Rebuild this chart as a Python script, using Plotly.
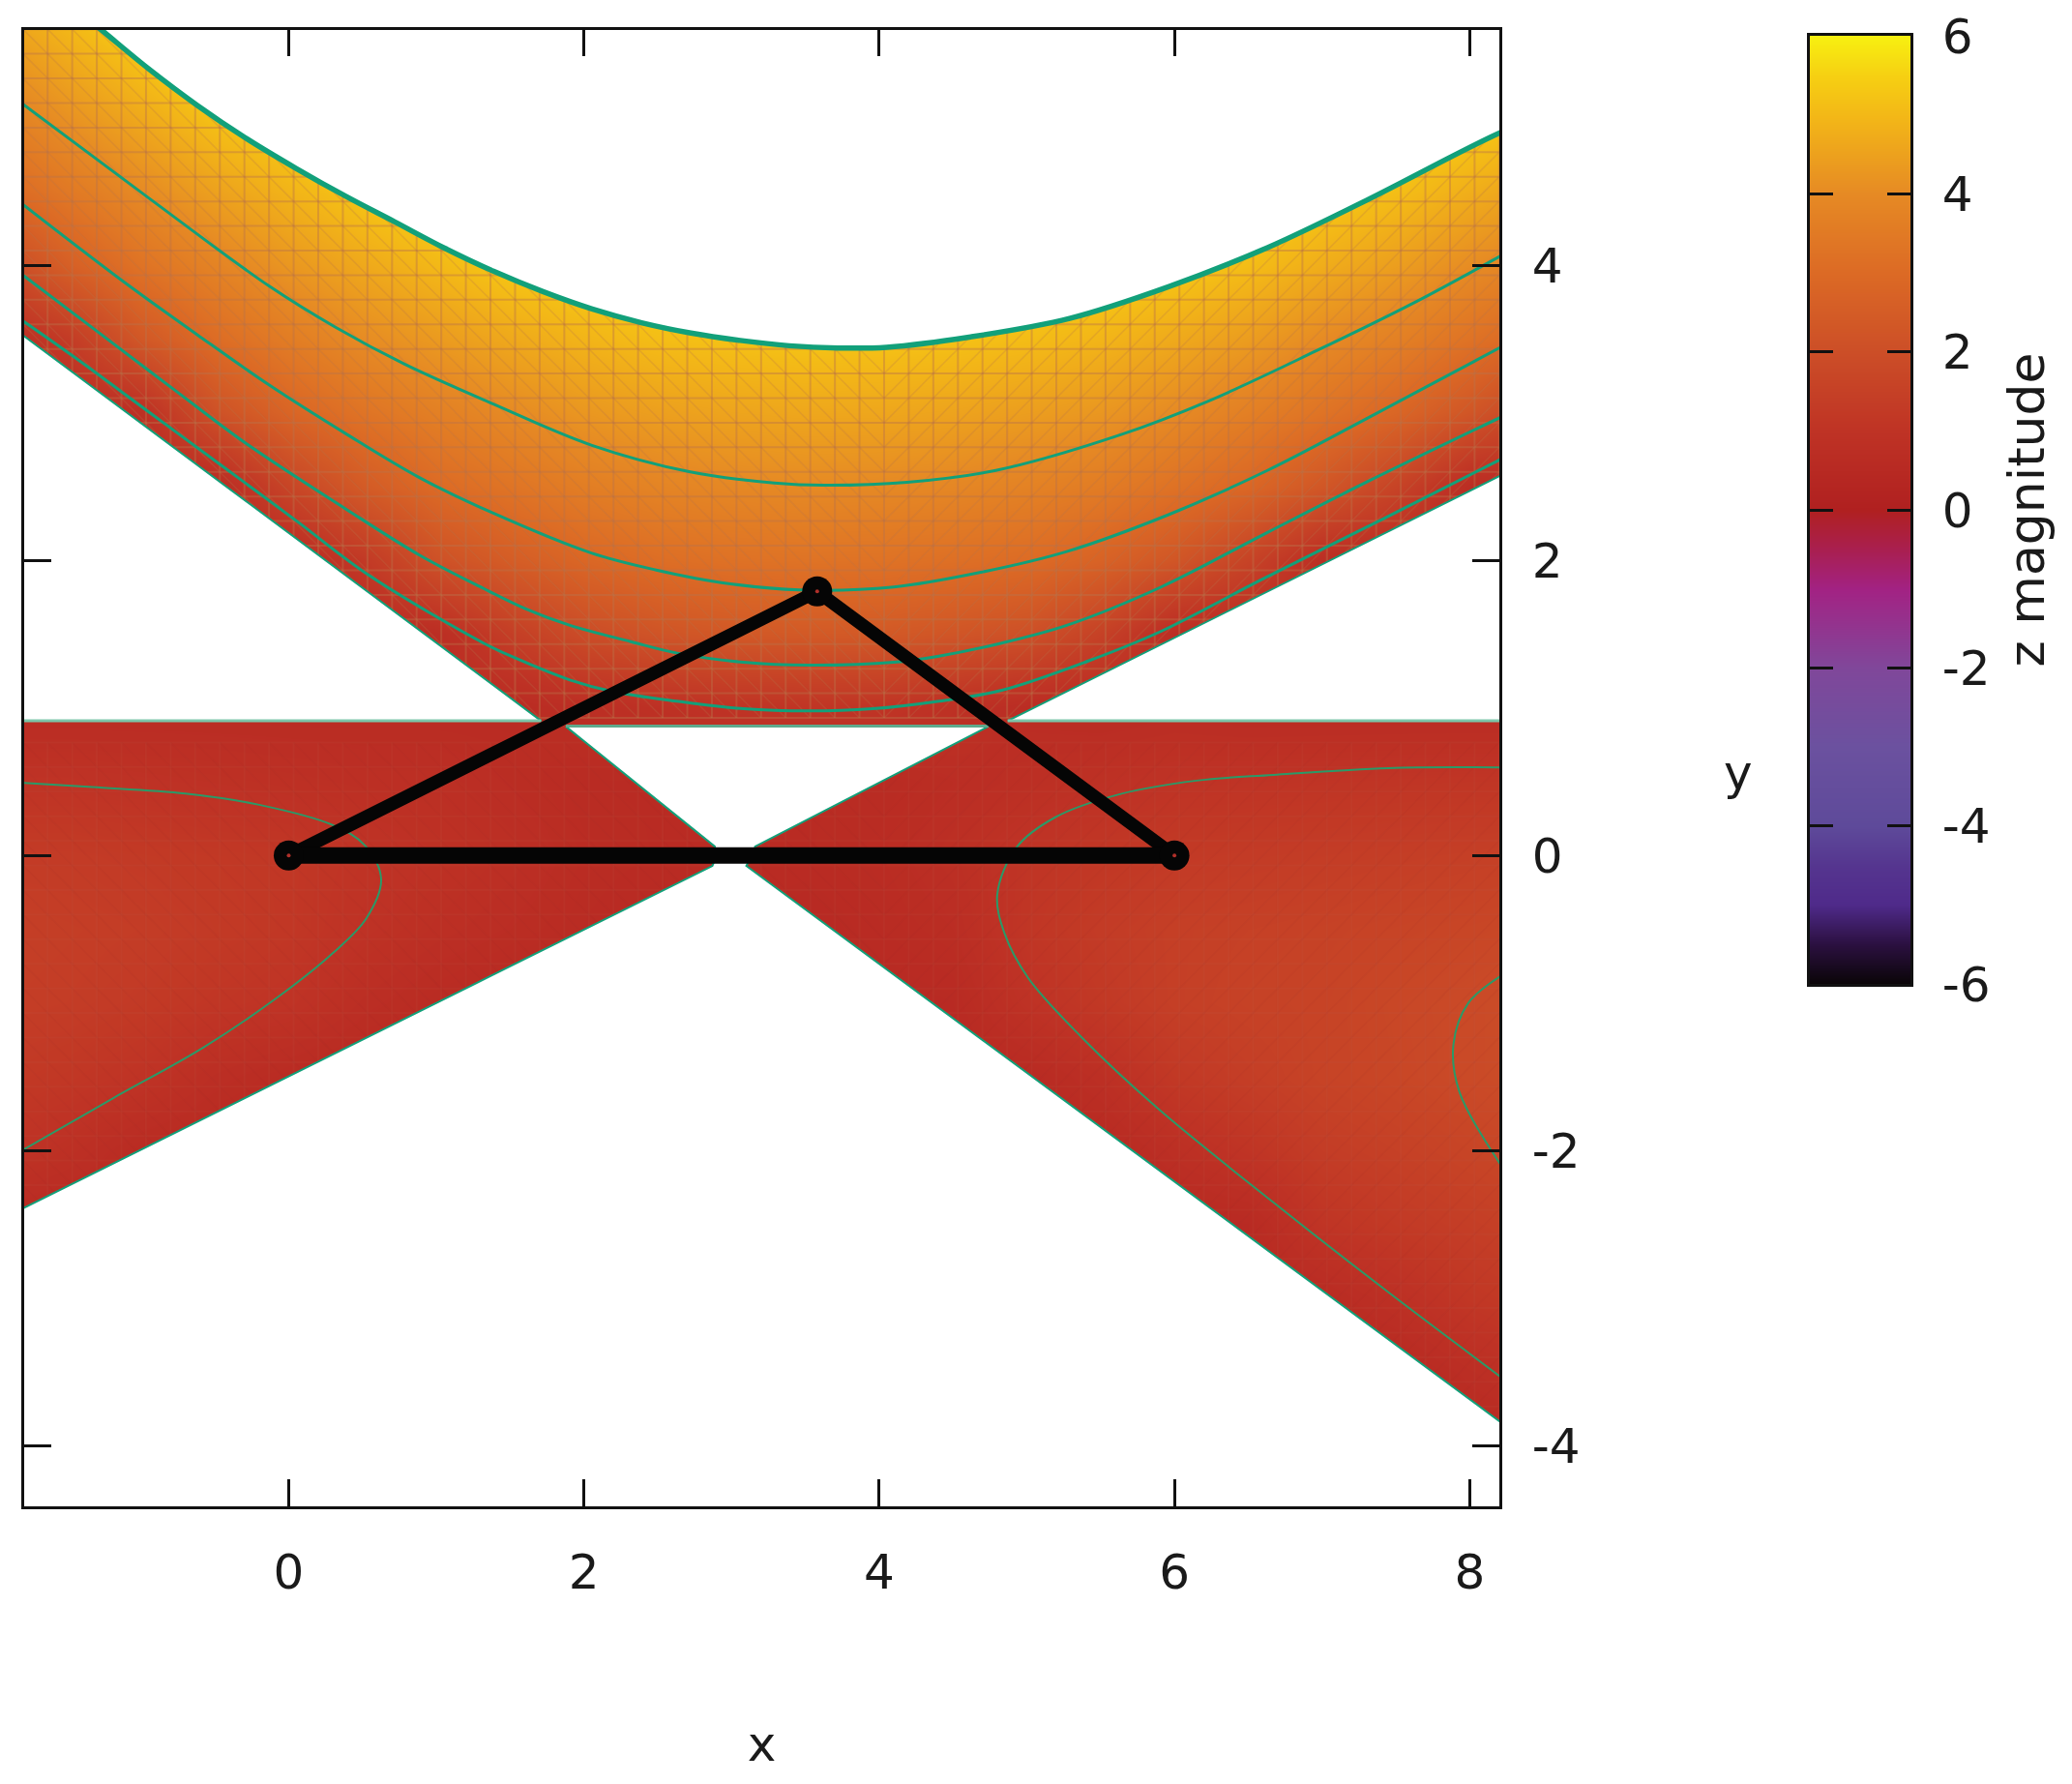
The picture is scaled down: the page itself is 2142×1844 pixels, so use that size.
import plotly.graph_objects as go
import numpy as np

FONT = "DejaVu Sans"
GREEN = "#12a07a"

# field (columns at grid_x, rows at grid_y)
grid_x = [-2, -1.5, -1, -.5, 0, .5, 1, 1.5, 2, 2.5, 3, 3.5, 4, 4.5, 5, 5.5, 6, 6.5, 7, 7.5, 8, 8.5, 9]
grid_y = [-4.5, -4, -3.5, -3, -2.5, -2, -1.5, -1, -.5, 0, .5, 1, 1.5, 2, 2.5, 3, 3.5, 4, 4.5, 5, 5.5, 6, 6.5]
z_columns = [
    [.5, .5, .5, .5, .6, 1.05, 1.25, 1.4, 1.45, 1.3, 1.0, .6, .6, .6, .6, .6, .6, 1.73, 2.86, 3.59, 4.27, 4.93, 5.5],
    [.5, .5, .5, .5, .5, .85, 1.15, 1.35, 1.4, 1.3, 1.0, .6, .6, .6, .6, .6, 1.29, 2.61, 3.46, 4.17, 4.83, 5.5, 6],
    [.5, .5, .5, .5, .5, .6, 1.0, 1.25, 1.35, 1.25, .95, .6, .6, .6, .6, .83, 2.34, 3.28, 4.0, 4.68, 5.35, 6, 6],
    [.5, .5, .5, .5, .5, .5, .75, 1.1, 1.25, 1.2, .9, .6, .6, .6, .6, 2.1, 3.06, 3.79, 4.51, 5.2, 5.8, 6, 6],
    [.5, .5, .5, .5, .5, .5, .6, 1.0, 1.15, 1.15, .85, .6, .6, .6, 1.64, 2.8, 3.58, 4.27, 4.91, 5.5, 6, 6, 6],
    [.5, .5, .5, .5, .5, .5, .5, .75, .95, 1.02, .8, .6, .6, 1.21, 2.44, 3.3, 4.03, 4.66, 5.3, 5.9, 6, 6, 6],
    [.5, .5, .5, .5, .5, .5, .5, .6, .8, .9, .8, .6, .73, 2.09, 3.0, 3.68, 4.35, 5.0, 5.6, 6, 6, 6, 6],
    [.5, .5, .5, .5, .5, .5, .5, .5, .7, .8, .7, .6, 1.4, 2.52, 3.31, 3.99, 4.66, 5.33, 5.9, 6, 6, 6, 6],
    [.5, .5, .5, .5, .5, .5, .5, .5, .6, .65, .6, .77, 1.92, 2.87, 3.61, 4.28, 4.92, 5.5, 6, 6, 6, 6, 6],
    [.5, .5, .5, .5, .5, .5, .5, .5, .5, .6, .6, .87, 2.21, 3.11, 3.81, 4.46, 5.11, 5.65, 6, 6, 6, 6, 6],
    [.5, .5, .5, .5, .5, .5, .5, .5, .6, .6, .6, 1.0, 2.35, 3.23, 3.92, 4.57, 5.2, 5.7, 6, 6, 6, 6, 6],
    [.5, .5, .5, .5, .5, .5, .5, .5, .5, .6, .6, 1.06, 2.41, 3.28, 3.99, 4.63, 5.26, 5.75, 6, 6, 6, 6, 6],
    [.5, .5, .5, .5, .5, .5, .5, .5, .6, .65, .6, 1.05, 2.39, 3.26, 3.96, 4.62, 5.25, 5.75, 6, 6, 6, 6, 6],
    [.5, .5, .5, .5, .5, .5, .5, .55, .7, .8, .7, .88, 2.25, 3.17, 3.89, 4.55, 5.2, 5.7, 6, 6, 6, 6, 6],
    [.5, .5, .5, .5, .5, .5, .55, .95, 1.1, 1.05, .8, .67, 2.06, 3.04, 3.75, 4.43, 5.09, 5.6, 6, 6, 6, 6, 6],
    [.5, .5, .5, .5, .5, .5, .8, 1.2, 1.3, 1.15, .9, .6, 1.52, 2.73, 3.55, 4.27, 4.93, 5.5, 5.95, 6, 6, 6, 6],
    [.5, .5, .5, .5, .5, .8, 1.2, 1.45, 1.45, 1.25, 1.0, .65, .7, 2.28, 3.24, 4.0, 4.69, 5.35, 5.8, 6, 6, 6, 6],
    [.5, .5, .5, .5, .55, 1.05, 1.4, 1.55, 1.5, 1.3, 1.02, .6, .6, 1.59, 2.88, 3.67, 4.4, 5.1, 5.6, 6, 6, 6, 6],
    [.5, .5, .5, .6, 1.05, 1.35, 1.6, 1.6, 1.55, 1.35, 1.05, .6, .6, .75, 2.3, 3.29, 4.01, 4.76, 5.4, 5.9, 6, 6, 6],
    [.5, .5, .5, .85, 1.25, 1.5, 1.72, 1.75, 1.62, 1.4, 1.08, .6, .6, .6, 1.59, 2.86, 3.7, 4.44, 5.14, 5.65, 6, 6, 6],
    [.5, .5, .75, 1.15, 1.4, 1.65, 1.85, 1.85, 1.7, 1.45, 1.1, .6, .55, .55, .7, 2.28, 3.27, 4.05, 4.8, 5.45, 5.9, 6, 6],
    [.5, .55, .95, 1.3, 1.55, 1.8, 1.95, 1.95, 1.78, 1.5, 1.1, .6, .6, .6, .6, 1.54, 2.79, 3.67, 4.45, 5.2, 5.7, 6, 6],
    [.5, .8, 1.2, 1.5, 1.75, 2.0, 2.1, 2.05, 1.85, 1.55, 1.1, .6, .55, .55, .55, .6, 2.2, 3.17, 4.0, 4.75, 5.3, 5.8, 6],
]

# colour bar colours
bar_levels = [-6, -5.5, -5, -4.5, -4, -3, -2, -1.2, -1, -.5, 0, 1, 2, 3, 4, 5, 5.5, 6]
bar_colours = ["#0a0507", "#2b1040", "#4f2a8a", "#55358f", "#5e4a9a", "#6b519f", "#80479a", "#9c2a88", "#a22283",
               "#a91f50", "#b02020", "#bf3325", "#cc4e27", "#dc6a25", "#e68a24", "#f3b817", "#f6d012", "#f7f011"]

# outer curve of the upper band
top_x = [-1.45, -1.288, -.953, -.619, -.284, .05, .384, .719, 1.053, 1.387, 1.722, 2.056, 2.39, 2.725, 3.059, 3.39,
         3.72, 4.05, 4.62, 5.29, 5.96, 6.63, 7.30, 8.22]
top_y = [5.74, 5.611, 5.335, 5.084, 4.858, 4.657, 4.469, 4.294, 4.118, 3.96, 3.822, 3.704, 3.611, 3.541, 3.491, 3.455,
         3.44, 3.445, 3.515, 3.64, 3.855, 4.12, 4.44, 4.905]

# contour lines of the upper band
c1_x = [-1.81, -.953, -.134, .317, .785, 1.386, 2.054, 2.72, 3.29, 3.62, 4.19, 4.79, 5.63, 6.23, 6.96, 7.63, 8.22]
c1_y = [5.10, 4.46, 3.86, 3.58, 3.33, 3.06, 2.78, 2.60, 2.525, 2.51, 2.53, 2.61, 2.85, 3.08, 3.42, 3.75, 4.07]
c2_x = [-1.81, -1.12, -.62, -.134, .385, .888, 1.386, 2.05, 2.49, 2.93, 3.46, 4.10, 4.69, 5.27, 5.96, 6.63, 7.30, 8.22]
c2_y = [4.42, 3.89, 3.53, 3.19, 2.86, 2.56, 2.32, 2.05, 1.935, 1.85, 1.80, 1.82, 1.92, 2.06, 2.31, 2.61, 2.96, 3.45]
c3_x = [-1.81, -1.288, -.786, -.285, .385, .888, 1.32, 1.61, 1.905, 2.317, 2.64, 3.08, 3.52, 4.10, 4.395, 4.83, 5.27, 5.91, 6.63, 7.30, 8.22]
c3_y = [3.94, 3.545, 3.165, 2.79, 2.35, 2.035, 1.81, 1.67, 1.56, 1.45, 1.37, 1.31, 1.29, 1.31, 1.35, 1.44, 1.56, 1.82, 2.19, 2.53, 2.975]
c4_x = [-1.81, -1.455, -.953, -.45, .05, .55, 1.32, 1.555, 1.905, 2.2, 2.64, 3.08, 3.52, 3.955, 4.395, 4.83, 5.42, 5.91, 6.58, 7.43, 8.22]
c4_y = [3.63, 3.38, 3.01, 2.64, 2.27, 1.895, 1.44, 1.33, 1.19, 1.11, 1.045, .995, .98, .995, 1.045, 1.12, 1.32, 1.52, 1.865, 2.29, 2.69]

# contour lines of the lower wings
c5_x = [-1.81, -1.33, -.70, -.2, .30, .515, .626, .527, .30, -.075, -.577, -1.2, -1.81]
c5_y = [.494, .464, .42, .344, .206, .07, -.16, -.424, -.66, -.96, -1.30, -1.65, -2.0]
c6_x = [8.22, 7.45, 6.67, 6.15, 5.63, 5.19, 4.93, 4.80, 4.85, 5.01, 5.37, 5.89, 6.67, 7.45, 8.22]
c6_y = [.597, .593, .547, .508, .416, .258, .055, -.263, -.53, -.83, -1.23, -1.716, -2.35, -2.96, -3.54]
c7_x = [8.22, 7.99, 7.89, 7.93, 8.22]
c7_y = [-.81, -1.0, -1.28, -1.60, -2.11]

# empty regions of the band map
above_x = top_x + [8.6, 8.6, -1.45]
above_y = top_y + [5.05, 6.2, 6.2]
left_wedge_x = [-1.9, 1.71, -1.9]
left_wedge_y = [3.60, .913, .913]
right_wedge_x = [4.87, 8.4, 8.4]
right_wedge_y = [.913, 2.67, .913]
lower_x = [1.877, 4.74, 3.16, 3.14, 3.10, 8.4, 8.4, -1.9, -1.9, 2.87, 2.90, 2.886, 1.877]
lower_y = [.875, .875, .062, 0, -.07, -3.98, -4.6, -4.6, -2.44, -.07, 0, .062, .875]

flat_left_x = [-1.81, 1.71]
flat_right_x = [4.87, 8.22]
flat_outer_y = [.913, .913]
flat_gap_x = [1.877, 4.74]
flat_gap_y = [.878, .878]

# black triangle
tri_x = [0, 3.58, 6]
tri_y = [0, 1.79, 0]

x_ticks = [0, 2, 4, 6, 8]
y_ticks = [-4, -2, 0, 2, 4]
bar_ticks = [-6, -4, -2, 0, 2, 4, 6]

# the surface's facet seams, a regular 1/6 lattice
MESH_X0, MESH_Y0, MESH_STEP, MESH_N = -1.8, 5.6, 1 / 6, 61

W, H = 2142, 1844
PLOT_L, PLOT_R, PLOT_T, PLOT_B = 25, 1550, 30.5, 1557
BAR_L, BAR_R, BAR_T, BAR_B = 1871, 1975, 37, 1017

fig = go.Figure()
colorscale = [[(v + 6) / 12, c] for v, c in zip(bar_levels, bar_colours)]

fig.add_trace(go.Heatmap(x=grid_x, y=grid_y, z=np.array(z_columns).T, zmin=-6, zmax=6,
                         colorscale=colorscale, zsmooth="best", showscale=False, hoverinfo="skip"))


def seams(y_lo, y_hi, straight, diagonal):
    hx, hy, dx, dy = [], [], [], []
    xs = [MESH_X0 + k * MESH_STEP for k in range(MESH_N)]
    ys = [MESH_Y0 - k * MESH_STEP for k in range(MESH_N)]
    ys = [v for v in ys if y_lo <= v <= y_hi]
    for v in xs:
        hx += [v, v, None]
        hy += [ys[-1], ys[0], None]
    for v in ys:
        hx += [xs[0], xs[-1], None]
        hy += [v, v, None]
    for v in xs[:-1]:
        for w in ys[:-1]:
            if v < 3.9:
                dx += [v, v + MESH_STEP, None]
                dy += [w, w - MESH_STEP, None]
            else:
                dx += [v, v + MESH_STEP, None]
                dy += [w - MESH_STEP, w, None]
    fig.add_trace(go.Scatter(x=hx, y=hy, mode="lines", hoverinfo="skip",
                             line=dict(color=straight, width=2)))
    fig.add_trace(go.Scatter(x=dx, y=dy, mode="lines", hoverinfo="skip",
                             line=dict(color=diagonal, width=1.5)))


seams(.9, 5.7, "rgba(185,115,75,0.42)", "rgba(185,115,75,0.25)")
seams(-4.5, .9, "rgba(190,90,70,0.12)", "rgba(150,50,50,0.08)")


def mask(x, y, width, shape="linear"):
    fig.add_trace(go.Scatter(x=x, y=y, mode="lines", fill="toself", fillcolor="white",
                             line=dict(color=GREEN, width=width, shape=shape), hoverinfo="skip"))


def curve(x, y, width, colour=GREEN, shape="spline"):
    line = dict(color=colour, width=width, shape=shape)
    if shape == "spline":
        line["smoothing"] = 1
    fig.add_trace(go.Scatter(x=x, y=y, mode="lines", line=line, hoverinfo="skip"))


mask(above_x, above_y, 5.5, "spline")
mask(left_wedge_x, left_wedge_y, 2)
mask(right_wedge_x, right_wedge_y, 2)
mask(lower_x, lower_y, 2)
curve(flat_left_x, flat_outer_y, 3, "#7cc6aa", "linear")
curve(flat_right_x, flat_outer_y, 3, "#7cc6aa", "linear")
curve(flat_gap_x, flat_gap_y, 3, "#5fa98c", "linear")

for cx, cy in [(c1_x, c1_y), (c2_x, c2_y), (c3_x, c3_y), (c4_x, c4_y)]:
    curve(cx, cy, 3)
for cx, cy in [(c5_x, c5_y), (c6_x, c6_y), (c7_x, c7_y)]:
    curve(cx, cy, 2, "#2a9a68")

curve(tri_x, tri_y, 13.5, "#050505", "linear")
curve([tri_x[0], tri_x[2]], [tri_y[0], tri_y[2]], 17, "#050505", "linear")
fig.add_trace(go.Scatter(x=tri_x, y=tri_y, mode="markers", hoverinfo="skip",
                         marker=dict(size=31, color="#050505")))
fig.add_trace(go.Scatter(x=tri_x, y=tri_y, mode="markers", hoverinfo="skip",
                         marker=dict(size=4, color="#b0302a")))

# colour bar drawn as a slim heatmap so it carries ticks on both sides
fig.add_trace(go.Heatmap(x=[0, 1], y=bar_levels, z=[[v, v] for v in bar_levels], zmin=-6, zmax=6,
                         colorscale=colorscale, zsmooth="best", showscale=False, hoverinfo="skip",
                         xaxis="x2", yaxis="y2"))

axis_common = dict(showgrid=False, zeroline=False, showline=True, linecolor="#111111", linewidth=2.6,
                   ticks="inside", tickcolor="#111111", tickwidth=2.6, automargin=False,
                   tickfont=dict(family=FONT, size=50, color="#1a1a1a"))

fig.update_layout(
    width=W, height=H, autosize=False, showlegend=False,
    paper_bgcolor="white", plot_bgcolor="white",
    margin=dict(l=0, r=0, t=0, b=0),
    xaxis=dict(axis_common, domain=[PLOT_L / W, PLOT_R / W], range=[-1.792, 8.201], mirror="ticks", ticklen=28,
               tickmode="array", tickvals=x_ticks, ticktext=[str(v) for v in x_ticks],
               ticklabelstandoff=22,
               title=dict(text="x", font=dict(family=FONT, size=50, color="#1a1a1a"), standoff=133)),
    yaxis=dict(axis_common, domain=[1 - PLOT_B / H, 1 - PLOT_T / H], range=[-4.41, 5.598], side="right",
               mirror="ticks", ticklen=28, anchor="x",
               tickmode="array", tickvals=y_ticks, ticktext=[str(v) for v in y_ticks], ticklabelstandoff=21),
    xaxis2=dict(showgrid=False, zeroline=False, showline=True, linecolor="#111111", linewidth=3, mirror=True,
                domain=[BAR_L / W, BAR_R / W], range=[0, 1], showticklabels=False, ticks="", anchor="y2",
                automargin=False),
    yaxis2=dict(axis_common, domain=[1 - BAR_B / H, 1 - BAR_T / H], range=[-6, 6], side="right", mirror="ticks",
                ticklen=24, anchor="x2", tickmode="array", tickvals=bar_ticks,
                ticktext=[str(v) for v in bar_ticks], ticklabelstandoff=20,
                title=dict(text="z magnitude", font=dict(family=FONT, size=52, color="#1a1a1a"), standoff=20)),
    annotations=[dict(text="y", xref="paper", yref="paper", x=1814 / W, y=1 - 799 / H, showarrow=False,
                      font=dict(family=FONT, size=50, color="#1a1a1a"))],
)

fig.write_html("out.html", post_script="document.body.style.margin='0';", config=dict(displayModeBar=False))
